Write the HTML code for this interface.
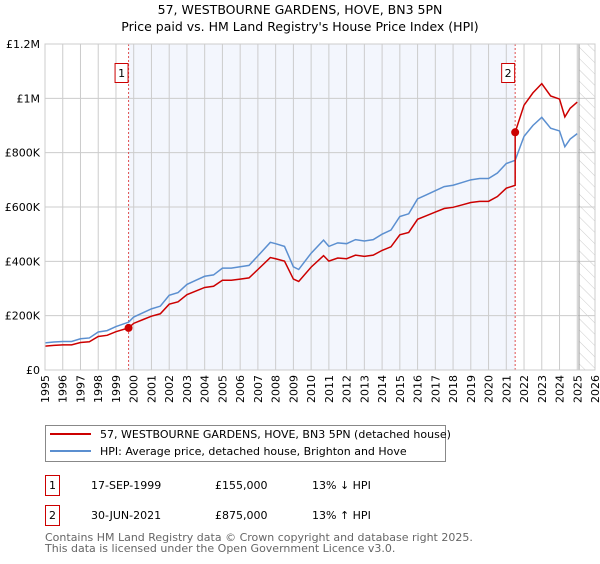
<!DOCTYPE html>
<html><head><meta charset="utf-8">
<style>
body{margin:0;background:#fff;font-family:"DejaVu Sans","Liberation Sans",sans-serif;}
svg text{font-family:"DejaVu Sans","Liberation Sans",sans-serif;}
</style></head>
<body>
<svg id="chart" width="600" height="560" viewBox="0 0 600 560" xmlns="http://www.w3.org/2000/svg">
<defs>
<pattern id="hatch" width="8" height="8" patternUnits="userSpaceOnUse" patternTransform="rotate(-45)">
<line x1="0" y1="0" x2="0" y2="8" stroke="#ccc" stroke-width="1"/>
</pattern>
</defs>
<text x="300" y="14" text-anchor="middle" font-size="12.5">57, WESTBOURNE GARDENS, HOVE, BN3 5PN</text>
<text x="300" y="31" text-anchor="middle" font-size="12.5">Price paid vs. HM Land Registry's House Price Index (HPI)</text>
<g id="plot"></g>
<rect x="45.5" y="425.5" width="400" height="36" fill="#fff" stroke="#888"/>
<line x1="50" y1="434" x2="91" y2="434" stroke="#cc0000" stroke-width="2"/>
<text x="100" y="438" font-size="11">57, WESTBOURNE GARDENS, HOVE, BN3 5PN (detached house)</text>
<line x1="50" y1="451" x2="91" y2="451" stroke="#5b8fd0" stroke-width="2"/>
<text x="100" y="455" font-size="11">HPI: Average price, detached house, Brighton and Hove</text>
<g font-size="11">
<rect x="45.5" y="475.5" width="14" height="20" fill="#fff" stroke="#cc0000"/>
<text x="52.5" y="489" text-anchor="middle">1</text>
<text x="91" y="489">17-SEP-1999</text>
<text x="215" y="489">£155,000</text>
<text x="312" y="489">13% ↓ HPI</text>
</g>
<g font-size="11">
<rect x="45.5" y="505.5" width="14" height="20" fill="#fff" stroke="#cc0000"/>
<text x="52.5" y="519" text-anchor="middle">2</text>
<text x="91" y="519">30-JUN-2021</text>
<text x="215" y="519">£875,000</text>
<text x="312" y="519">13% ↑ HPI</text>
</g>
<text x="45" y="541" font-size="11" fill="#666">Contains HM Land Registry data © Crown copyright and database right 2025.</text>
<text x="45" y="552" font-size="11" fill="#666">This data is licensed under the Open Government Licence v3.0.</text>
</svg>
<script>
const hpiYears=[1995,1995.5,1996,1996.5,1997,1997.5,1998,1998.5,1999,1999.71,2000,2000.5,2001,2001.5,2002,2002.5,2003,2003.5,2004,2004.5,2005,2005.5,2006,2006.5,2007,2007.7,2008,2008.5,2009,2009.3,2010,2010.7,2011,2011.5,2012,2012.5,2013,2013.5,2014,2014.5,2015,2015.5,2016,2016.5,2017,2017.5,2018,2018.5,2019,2019.5,2020,2020.5,2021,2021.5,2022,2022.5,2023,2023.5,2024,2024.3,2024.6,2025];
const hpiValues=[100000,103000,105000,105000,115000,118000,140000,145000,160000,176000,195000,210000,225000,235000,275000,285000,315000,330000,345000,350000,375000,375000,380000,385000,420000,470000,465000,455000,380000,370000,430000,478000,455000,468000,465000,480000,475000,480000,500000,515000,565000,575000,630000,645000,660000,675000,680000,690000,700000,705000,705000,725000,760000,772000,860000,900000,930000,890000,880000,822000,850000,870000];
const saleYears=[1999.71,2021.5];
const salePrices=[155000,875000];
const yTicks=[0,200000,400000,600000,800000,1000000,1200000];
const yTickLabels=["£0","£200K","£400K","£600K","£800K","£1M","£1.2M"];
const xTicks=[1995,1996,1997,1998,1999,2000,2001,2002,2003,2004,2005,2006,2007,2008,2009,2010,2011,2012,2013,2014,2015,2016,2017,2018,2019,2020,2021,2022,2023,2024,2025,2026];

const X0=45,X1=595,Y0=370,Y1=44;
const x=t=>X0+(t-1995)/(2026-1995)*(X1-X0);
const y=v=>Y0-v/1200000*(Y0-Y1);
const NS="http://www.w3.org/2000/svg";
const g=document.getElementById('plot');
function mk(tag,attrs,parent){const e=document.createElementNS(NS,tag);for(const k in attrs)e.setAttribute(k,attrs[k]);(parent||g).appendChild(e);return e;}
function hpiAt(t){for(let i=0;i<hpiYears.length-1;i++){if(t>=hpiYears[i]&&t<=hpiYears[i+1]){const f=(t-hpiYears[i])/(hpiYears[i+1]-hpiYears[i]);return hpiValues[i]+f*(hpiValues[i+1]-hpiValues[i]);}}return hpiValues[hpiValues.length-1];}

let r=mk('rect',{x:x(saleYears[0]),y:Y1,width:x(saleYears[1])-x(saleYears[0]),height:Y0-Y1,fill:'#eef2fc',opacity:0.7});


let h=mk('rect',{x:x(2025.1),y:Y1,width:X1-x(2025.1),height:Y0-Y1,fill:'url(#hatch)'});


xTicks.forEach(t=>{
  let l=mk('line',{x1:x(t),x2:x(t),y1:Y1,y2:Y0,stroke:'#ccc','stroke-width':1});
  
  
  let tx=mk('text',{transform:`translate(${x(t)+4},${Y0+5}) rotate(-90)`,'text-anchor':'end','font-size':11});
  tx.textContent=t;
  
  
});
yTicks.forEach((v,i)=>{
  let l=mk('line',{x1:X0,x2:X1,y1:y(v),y2:y(v),stroke:'#ccc','stroke-width':1});
  
  
  let tx=mk('text',{x:X0-5,y:y(v)+4,'text-anchor':'end','font-size':11});
  tx.textContent=yTickLabels[i];
  
  
});
let vl=mk('line',{x1:x(2025.1),x2:x(2025.1),y1:Y1,y2:Y0,stroke:'#999','stroke-width':1});


saleYears.forEach((t,i)=>{
  let l=mk('line',{x1:x(t),x2:x(t),y1:Y1,y2:Y0,stroke:'#e05050','stroke-width':1,'stroke-dasharray':'2,2'});
  
  
  let b=mk('rect',{x:x(t)-13.5,y:63.5,width:13,height:19,fill:'#fff',stroke:'#cc0000'});
  
  
  let tx=mk('text',{x:x(t)-7,y:77,'text-anchor':'middle','font-size':11});
  tx.textContent=i+1;
  
  
});
let hp=mk('polyline',{points:hpiYears.map((t,i)=>x(t)+','+y(hpiValues[i])).join(' '),fill:'none',stroke:'#5b8fd0','stroke-width':1.5});


const pts=[];
const r1=salePrices[0]/hpiAt(saleYears[0]),r2=salePrices[1]/hpiAt(saleYears[1]);
hpiYears.forEach((t,i)=>{if(t<saleYears[1])pts.push([t,hpiValues[i]*r1]);});
pts.push([saleYears[1],hpiAt(saleYears[1])*r1]);
pts.push([saleYears[1],salePrices[1]]);
hpiYears.forEach((t,i)=>{if(t>saleYears[1])pts.push([t,hpiValues[i]*r2]);});
let pl=mk('polyline',{points:pts.map(p=>x(p[0])+','+y(p[1])).join(' '),fill:'none',stroke:'#cc0000','stroke-width':1.5});


saleYears.forEach((t,i)=>{
  let c=mk('circle',{cx:x(t),cy:y(salePrices[i]),r:4,fill:'#cc0000'});
  
  
});
let ax=mk('rect',{x:X0,y:Y1,width:X1-X0,height:Y0-Y1,fill:'none',stroke:'#ccc'});


</script>
</body></html>
